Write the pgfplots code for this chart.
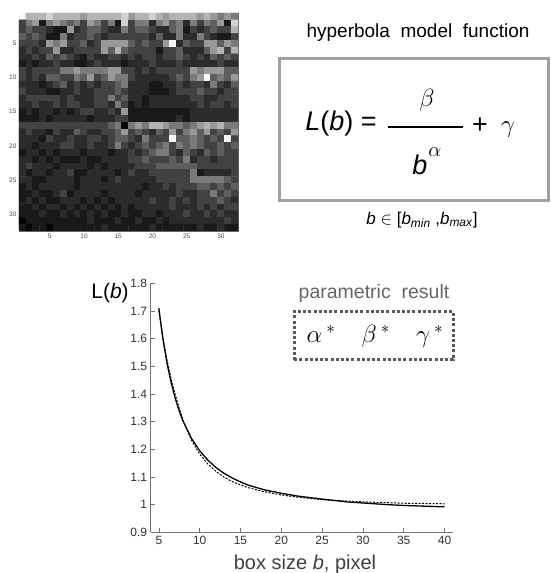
\documentclass[border=0pt]{standalone}
\usepackage{fontspec}
\setmainfont{Liberation Sans}
\usepackage{pgfplots}
\pgfplotsset{compat=1.18}
\definecolor{boxgray}{HTML}{A0A0A0}
\definecolor{dotgray}{HTML}{5A5A5A}
\begin{document}
\begin{tikzpicture}[x=1pt,y=1pt]
\useasboundingbox (0,0) rectangle (550,573);
\fill[white] (0,0) rectangle (550,573);
% matrix image
\begin{axis}[at={(19pt,342pt)}, anchor=south west, scale only axis,
  width=219pt, height=218pt,
  xmin=0.5, xmax=32.5, ymin=0.5, ymax=32.5, y dir=reverse,
  enlargelimits=false,
  xtick={5,10,15,20,25,30}, ytick={5,10,15,20,25,30},
  tick align=inside, major tick length=2pt,
  tick style={black!70, line width=0.4pt},
  axis line style={black!60, line width=0.5pt},
  ticklabel style={font=\fontsize{6.5}{6.5}\selectfont, text=black!70},
  xticklabel style={yshift=1pt}, yticklabel style={xshift=1pt},
  /pgf/number format/assume math mode=true,
  colormap={bw}{gray(0cm)=(0.02); gray(1cm)=(0.10); gray(2cm)=(0.17); gray(3cm)=(0.26);
    gray(4cm)=(0.37); gray(5cm)=(0.48); gray(6cm)=(0.60); gray(7cm)=(0.70);
    gray(8cm)=(0.82); gray(9cm)=(0.97)},
  point meta min=0, point meta max=9]
\addplot[matrix plot*, mesh/cols=32, point meta=explicit] table[meta=c, row sep=\\] {
x y c\\
1 1 9\\2 1 7\\3 1 7\\4 1 7\\5 1 8\\6 1 7\\7 1 7\\8 1 7\\9 1 7\\10 1 6\\11 1 7\\12 1 7\\13 1 7\\14 1 7\\15 1 7\\16 1 8\\17 1 6\\18 1 7\\19 1 7\\20 1 8\\21 1 7\\22 1 6\\23 1 7\\24 1 7\\25 1 7\\26 1 7\\27 1 6\\28 1 7\\29 1 6\\30 1 5\\31 1 6\\32 1 5\\
1 2 3\\2 2 5\\3 2 6\\4 2 1\\5 2 5\\6 2 6\\7 2 5\\8 2 4\\9 2 5\\10 2 3\\11 2 6\\12 2 5\\13 2 3\\14 2 5\\15 2 1\\16 2 8\\17 2 3\\18 2 5\\19 2 5\\20 2 2\\21 2 5\\22 2 6\\23 2 4\\24 2 5\\25 2 2\\26 2 5\\27 2 3\\28 2 5\\29 2 4\\30 2 6\\31 2 1\\32 2 8\\
1 3 3\\2 3 4\\3 3 3\\4 3 3\\5 3 2\\6 3 1\\7 3 1\\8 3 6\\9 3 2\\10 3 3\\11 3 4\\12 3 4\\13 3 3\\14 3 2\\15 3 2\\16 3 5\\17 3 3\\18 3 4\\19 3 4\\20 3 3\\21 3 2\\22 3 2\\23 3 4\\24 3 5\\25 3 1\\26 3 3\\27 3 2\\28 3 3\\29 3 4\\30 3 3\\31 3 3\\32 3 7\\
1 4 4\\2 4 3\\3 4 4\\4 4 3\\5 4 1\\6 4 1\\7 4 5\\8 4 2\\9 4 3\\10 4 3\\11 4 4\\12 4 3\\13 4 2\\14 4 3\\15 4 3\\16 4 3\\17 4 3\\18 4 3\\19 4 3\\20 4 2\\21 4 4\\22 4 2\\23 4 2\\24 4 5\\25 4 2\\26 4 2\\27 4 5\\28 4 3\\29 4 2\\30 4 1\\31 4 1\\32 4 3\\
1 5 3\\2 5 3\\3 5 3\\4 5 2\\5 5 6\\6 5 5\\7 5 6\\8 5 3\\9 5 3\\10 5 4\\11 5 2\\12 5 3\\13 5 6\\14 5 6\\15 5 6\\16 5 6\\17 5 4\\18 5 3\\19 5 4\\20 5 3\\21 5 3\\22 5 6\\23 5 9\\24 5 2\\25 5 4\\26 5 3\\27 5 3\\28 5 6\\29 5 6\\30 5 4\\31 5 6\\32 5 5\\
1 6 2\\2 6 3\\3 6 2\\4 6 3\\5 6 3\\6 6 6\\7 6 2\\8 6 2\\9 6 3\\10 6 3\\11 6 3\\12 6 3\\13 6 6\\14 6 4\\15 6 7\\16 6 4\\17 6 3\\18 6 3\\19 6 3\\20 6 3\\21 6 1\\22 6 3\\23 6 3\\24 6 4\\25 6 2\\26 6 2\\27 6 2\\28 6 4\\29 6 6\\30 6 7\\31 6 3\\32 6 7\\
1 7 2\\2 7 2\\3 7 3\\4 7 2\\5 7 4\\6 7 3\\7 7 4\\8 7 3\\9 7 2\\10 7 1\\11 7 3\\12 7 2\\13 7 2\\14 7 3\\15 7 3\\16 7 2\\17 7 3\\18 7 2\\19 7 3\\20 7 3\\21 7 2\\22 7 3\\23 7 3\\24 7 4\\25 7 3\\26 7 2\\27 7 3\\28 7 2\\29 7 4\\30 7 3\\31 7 4\\32 7 3\\
1 8 1\\2 8 2\\3 8 1\\4 8 2\\5 8 2\\6 8 3\\7 8 2\\8 8 2\\9 8 1\\10 8 1\\11 8 2\\12 8 3\\13 8 2\\14 8 2\\15 8 2\\16 8 1\\17 8 2\\18 8 2\\19 8 2\\20 8 3\\21 8 2\\22 8 2\\23 8 2\\24 8 3\\25 8 2\\26 8 2\\27 8 2\\28 8 2\\29 8 2\\30 8 3\\31 8 2\\32 8 2\\
1 9 3\\2 9 2\\3 9 3\\4 9 3\\5 9 3\\6 9 3\\7 9 5\\8 9 5\\9 9 6\\10 9 5\\11 9 5\\12 9 5\\13 9 5\\14 9 6\\15 9 6\\16 9 3\\17 9 3\\18 9 2\\19 9 3\\20 9 2\\21 9 3\\22 9 3\\23 9 3\\24 9 3\\25 9 3\\26 9 6\\27 9 5\\28 9 6\\29 9 6\\30 9 6\\31 9 4\\32 9 4\\
1 10 3\\2 10 2\\3 10 3\\4 10 2\\5 10 4\\6 10 4\\7 10 3\\8 10 3\\9 10 5\\10 10 4\\11 10 6\\12 10 3\\13 10 4\\14 10 6\\15 10 5\\16 10 5\\17 10 3\\18 10 2\\19 10 2\\20 10 2\\21 10 2\\22 10 2\\23 10 3\\24 10 4\\25 10 3\\26 10 5\\27 10 6\\28 10 9\\29 10 4\\30 10 5\\31 10 4\\32 10 6\\
1 11 2\\2 11 2\\3 11 2\\4 11 1\\5 11 2\\6 11 3\\7 11 4\\8 11 2\\9 11 3\\10 11 2\\11 11 3\\12 11 2\\13 11 3\\14 11 3\\15 11 4\\16 11 5\\17 11 2\\18 11 2\\19 11 2\\20 11 1\\21 11 1\\22 11 2\\23 11 2\\24 11 3\\25 11 2\\26 11 3\\27 11 3\\28 11 2\\29 11 5\\30 11 3\\31 11 2\\32 11 4\\
1 12 3\\2 12 2\\3 12 2\\4 12 2\\5 12 1\\6 12 1\\7 12 2\\8 12 2\\9 12 3\\10 12 2\\11 12 2\\12 12 3\\13 12 3\\14 12 3\\15 12 4\\16 12 3\\17 12 2\\18 12 2\\19 12 2\\20 12 1\\21 12 1\\22 12 1\\23 12 2\\24 12 3\\25 12 3\\26 12 3\\27 12 4\\28 12 3\\29 12 3\\30 12 2\\31 12 3\\32 12 3\\
1 13 2\\2 13 3\\3 13 3\\4 13 3\\5 13 3\\6 13 3\\7 13 2\\8 13 3\\9 13 2\\10 13 2\\11 13 2\\12 13 3\\13 13 3\\14 13 5\\15 13 3\\16 13 4\\17 13 2\\18 13 2\\19 13 1\\20 13 2\\21 13 2\\22 13 2\\23 13 2\\24 13 2\\25 13 2\\26 13 3\\27 13 3\\28 13 2\\29 13 2\\30 13 3\\31 13 3\\32 13 3\\
1 14 2\\2 14 2\\3 14 3\\4 14 2\\5 14 2\\6 14 3\\7 14 2\\8 14 3\\9 14 3\\10 14 2\\11 14 2\\12 14 3\\13 14 3\\14 14 2\\15 14 5\\16 14 3\\17 14 1\\18 14 2\\19 14 1\\20 14 2\\21 14 2\\22 14 2\\23 14 2\\24 14 2\\25 14 2\\26 14 2\\27 14 3\\28 14 2\\29 14 3\\30 14 3\\31 14 2\\32 14 3\\
1 15 1\\2 15 2\\3 15 1\\4 15 2\\5 15 2\\6 15 1\\7 15 2\\8 15 1\\9 15 2\\10 15 3\\11 15 3\\12 15 2\\13 15 2\\14 15 3\\15 15 2\\16 15 6\\17 15 1\\18 15 1\\19 15 1\\20 15 1\\21 15 1\\22 15 1\\23 15 1\\24 15 1\\25 15 1\\26 15 2\\27 15 2\\28 15 2\\29 15 2\\30 15 2\\31 15 2\\32 15 2\\
1 16 1\\2 16 1\\3 16 1\\4 16 2\\5 16 1\\6 16 2\\7 16 2\\8 16 2\\9 16 2\\10 16 2\\11 16 1\\12 16 2\\13 16 2\\14 16 2\\15 16 3\\16 16 3\\17 16 1\\18 16 1\\19 16 1\\20 16 1\\21 16 1\\22 16 1\\23 16 1\\24 16 2\\25 16 1\\26 16 2\\27 16 2\\28 16 2\\29 16 2\\30 16 2\\31 16 2\\32 16 2\\
1 17 3\\2 17 3\\3 17 3\\4 17 3\\5 17 3\\6 17 3\\7 17 3\\8 17 3\\9 17 3\\10 17 3\\11 17 3\\12 17 3\\13 17 3\\14 17 4\\15 17 5\\16 17 0\\17 17 5\\18 17 6\\19 17 5\\20 17 7\\21 17 7\\22 17 6\\23 17 5\\24 17 5\\25 17 4\\26 17 5\\27 17 6\\28 17 7\\29 17 6\\30 17 7\\31 17 5\\32 17 5\\
1 18 2\\2 18 3\\3 18 2\\4 18 2\\5 18 1\\6 18 3\\7 18 2\\8 18 2\\9 18 4\\10 18 3\\11 18 2\\12 18 2\\13 18 3\\14 18 3\\15 18 4\\16 18 6\\17 18 3\\18 18 4\\19 18 3\\20 18 2\\21 18 4\\22 18 3\\23 18 6\\24 18 3\\25 18 5\\26 18 6\\27 18 4\\28 18 6\\29 18 3\\30 18 4\\31 18 3\\32 18 6\\
1 19 2\\2 19 2\\3 19 2\\4 19 1\\5 19 3\\6 19 2\\7 19 2\\8 19 3\\9 19 2\\10 19 2\\11 19 3\\12 19 3\\13 19 2\\14 19 3\\15 19 4\\16 19 4\\17 19 3\\18 19 2\\19 19 5\\20 19 3\\21 19 3\\22 19 3\\23 19 9\\24 19 4\\25 19 4\\26 19 5\\27 19 4\\28 19 3\\29 19 4\\30 19 3\\31 19 9\\32 19 3\\
1 20 2\\2 20 2\\3 20 1\\4 20 2\\5 20 2\\6 20 2\\7 20 3\\8 20 3\\9 20 2\\10 20 2\\11 20 3\\12 20 2\\13 20 2\\14 20 3\\15 20 5\\16 20 3\\17 20 2\\18 20 3\\19 20 4\\20 20 3\\21 20 4\\22 20 5\\23 20 3\\24 20 5\\25 20 4\\26 20 5\\27 20 4\\28 20 3\\29 20 3\\30 20 4\\31 20 3\\32 20 4\\
1 21 1\\2 21 2\\3 21 2\\4 21 1\\5 21 2\\6 21 1\\7 21 2\\8 21 2\\9 21 2\\10 21 1\\11 21 2\\12 21 2\\13 21 2\\14 21 1\\15 21 2\\16 21 2\\17 21 3\\18 21 2\\19 21 3\\20 21 4\\21 21 5\\22 21 5\\23 21 3\\24 21 2\\25 21 4\\26 21 3\\27 21 2\\28 21 4\\29 21 3\\30 21 4\\31 21 3\\32 21 3\\
1 22 2\\2 22 2\\3 22 1\\4 22 2\\5 22 1\\6 22 2\\7 22 1\\8 22 1\\9 22 1\\10 22 2\\11 22 1\\12 22 1\\13 22 2\\14 22 2\\15 22 2\\16 22 2\\17 22 3\\18 22 3\\19 22 4\\20 22 3\\21 22 3\\22 22 3\\23 22 4\\24 22 3\\25 22 5\\26 22 2\\27 22 3\\28 22 3\\29 22 2\\30 22 3\\31 22 3\\32 22 3\\
1 23 2\\2 23 3\\3 23 2\\4 23 2\\5 23 2\\6 23 1\\7 23 2\\8 23 2\\9 23 2\\10 23 2\\11 23 1\\12 23 2\\13 23 1\\14 23 2\\15 23 2\\16 23 2\\17 23 2\\18 23 3\\19 23 3\\20 23 3\\21 23 4\\22 23 4\\23 23 4\\24 23 4\\25 23 4\\26 23 4\\27 23 3\\28 23 3\\29 23 3\\30 23 3\\31 23 3\\32 23 3\\
1 24 2\\2 24 1\\3 24 2\\4 24 2\\5 24 1\\6 24 2\\7 24 2\\8 24 3\\9 24 1\\10 24 1\\11 24 2\\12 24 2\\13 24 2\\14 24 2\\15 24 1\\16 24 2\\17 24 3\\18 24 2\\19 24 2\\20 24 3\\21 24 3\\22 24 3\\23 24 3\\24 24 3\\25 24 3\\26 24 5\\27 24 1\\28 24 2\\29 24 2\\30 24 2\\31 24 2\\32 24 3\\
1 25 2\\2 25 2\\3 25 1\\4 25 1\\5 25 2\\6 25 2\\7 25 2\\8 25 2\\9 25 1\\10 25 2\\11 25 2\\12 25 2\\13 25 1\\14 25 2\\15 25 3\\16 25 2\\17 25 2\\18 25 2\\19 25 2\\20 25 2\\21 25 3\\22 25 3\\23 25 3\\24 25 3\\25 25 3\\26 25 5\\27 25 5\\28 25 5\\29 25 5\\30 25 5\\31 25 4\\32 25 3\\
1 26 1\\2 26 2\\3 26 1\\4 26 2\\5 26 2\\6 26 2\\7 26 2\\8 26 2\\9 26 1\\10 26 2\\11 26 2\\12 26 2\\13 26 2\\14 26 2\\15 26 2\\16 26 2\\17 26 2\\18 26 2\\19 26 1\\20 26 2\\21 26 2\\22 26 3\\23 26 2\\24 26 3\\25 26 3\\26 26 3\\27 26 4\\28 26 4\\29 26 3\\30 26 4\\31 26 3\\32 26 4\\
1 27 1\\2 27 1\\3 27 2\\4 27 1\\5 27 1\\6 27 2\\7 27 3\\8 27 1\\9 27 2\\10 27 2\\11 27 2\\12 27 2\\13 27 1\\14 27 2\\15 27 2\\16 27 2\\17 27 2\\18 27 1\\19 27 2\\20 27 2\\21 27 2\\22 27 2\\23 27 2\\24 27 3\\25 27 2\\26 27 2\\27 27 3\\28 27 3\\29 27 5\\30 27 3\\31 27 4\\32 27 3\\
1 28 1\\2 28 2\\3 28 1\\4 28 2\\5 28 1\\6 28 1\\7 28 2\\8 28 2\\9 28 2\\10 28 1\\11 28 2\\12 28 1\\13 28 2\\14 28 1\\15 28 2\\16 28 2\\17 28 2\\18 28 2\\19 28 2\\20 28 3\\21 28 2\\22 28 2\\23 28 3\\24 28 2\\25 28 3\\26 28 2\\27 28 3\\28 28 3\\29 28 3\\30 28 4\\31 28 3\\32 28 2\\
1 29 1\\2 29 1\\3 29 2\\4 29 1\\5 29 2\\6 29 2\\7 29 1\\8 29 2\\9 29 1\\10 29 2\\11 29 1\\12 29 2\\13 29 1\\14 29 2\\15 29 1\\16 29 2\\17 29 1\\18 29 2\\19 29 2\\20 29 2\\21 29 2\\22 29 2\\23 29 3\\24 29 2\\25 29 2\\26 29 2\\27 29 3\\28 29 2\\29 29 3\\30 29 2\\31 29 3\\32 29 3\\
1 30 1\\2 30 1\\3 30 1\\4 30 2\\5 30 1\\6 30 1\\7 30 2\\8 30 1\\9 30 2\\10 30 1\\11 30 2\\12 30 1\\13 30 2\\14 30 1\\15 30 1\\16 30 2\\17 30 1\\18 30 1\\19 30 2\\20 30 2\\21 30 1\\22 30 2\\23 30 2\\24 30 2\\25 30 3\\26 30 2\\27 30 2\\28 30 3\\29 30 2\\30 30 3\\31 30 2\\32 30 2\\
1 31 0\\2 31 1\\3 31 1\\4 31 1\\5 31 1\\6 31 1\\7 31 1\\8 31 1\\9 31 1\\10 31 1\\11 31 2\\12 31 1\\13 31 1\\14 31 1\\15 31 2\\16 31 1\\17 31 1\\18 31 2\\19 31 1\\20 31 1\\21 31 2\\22 31 1\\23 31 2\\24 31 2\\25 31 2\\26 31 2\\27 31 2\\28 31 2\\29 31 2\\30 31 2\\31 31 3\\32 31 2\\
1 32 1\\2 32 0\\3 32 1\\4 32 1\\5 32 0\\6 32 1\\7 32 1\\8 32 1\\9 32 1\\10 32 1\\11 32 1\\12 32 1\\13 32 2\\14 32 1\\15 32 1\\16 32 1\\17 32 1\\18 32 1\\19 32 1\\20 32 2\\21 32 1\\22 32 1\\23 32 1\\24 32 1\\25 32 1\\26 32 1\\27 32 2\\28 32 1\\29 32 1\\30 32 2\\31 32 1\\32 32 1\\
};
\end{axis}
% fitted curves
\begin{axis}[at={(150.7pt,40.7pt)}, anchor=south west, scale only axis,
  width=302pt, height=249pt,
  xmin=4, xmax=41, ymin=0.9, ymax=1.8,
  axis x line=bottom, axis y line=left,
  axis line style={-, black!55, line width=0.6pt},
  tick align=inside, major tick length=4pt,
  tick style={black!55, line width=0.6pt},
  xtick={5,10,15,20,25,30,35,40},
  ytick={0.9,1,1.1,1.2,1.3,1.4,1.5,1.6,1.7,1.8},
  ticklabel style={font=\fontsize{12}{12}\selectfont, text=black!80},
  /pgf/number format/assume math mode=true]
\addplot[black, line width=1.3pt] coordinates {
  (5,1.710) (5.5,1.598) (6,1.511) (6.5,1.442) (7,1.385) (7.5,1.338) (8,1.299)
  (9,1.239) (10,1.195) (11,1.161) (12,1.134) (13,1.113) (14,1.096) (15,1.082)
  (16,1.070) (18,1.053) (20,1.041) (22,1.031) (25,1.020) (28,1.010) (30,1.006)
  (33,1.000) (35,0.997) (38,0.994) (40,0.992)};
\addplot[black, line width=1pt, dash pattern=on 2pt off 1.5pt] coordinates {
  (5,1.700) (5.5,1.602) (6,1.522) (6.5,1.455) (7,1.398) (7.5,1.348) (8,1.303)
  (9,1.233) (10,1.183) (11,1.147) (12,1.120) (13,1.099) (14,1.083) (15,1.071)
  (16,1.061) (18,1.046) (20,1.035) (22,1.027) (25,1.018) (28,1.013) (30,1.010)
  (33,1.007) (35,1.005) (38,1.004) (40,1.003)};
\end{axis}
% formula panel
\node[font=\fontsize{19}{19}\selectfont] at (418,540) {hyperbola\ \ model\ \ function};
\draw[boxgray, line width=3pt] (279,372) rectangle (548,514);
\node[font=\fontsize{27}{27}\selectfont] at (341,449) {\textit{L}(\textit{b}) =};
\draw[black, line width=1.5pt] (388,446) -- (463,446);
\node[font=\fontsize{26}{26}\selectfont] at (427,473) {$\beta$};
\node[font=\fontsize{27}{27}\selectfont] at (420,408) {\textit{b}};
\node[font=\fontsize{22}{22}\selectfont] at (435,421) {$\alpha$};
\node[font=\fontsize{27}{27}\selectfont] at (480,447) {+};
\node[font=\fontsize{26}{26}\selectfont] at (508,443) {$\gamma$};
\node[font=\fontsize{17}{17}\selectfont] at (422,353)
  {\textit{b} $\in$ [\textit{b}\textsubscript{\textit{min}} ,\textit{b}\textsubscript{\textit{max}}]};
% result panel
\node[font=\fontsize{21}{21}\selectfont] at (110,280) {L(\textit{b})};
\node[font=\fontsize{19.5}{19.5}\selectfont, text=black!60] at (374,280) {parametric\ \ result};
\draw[dotgray, line width=3pt, dash pattern=on 3pt off 2.2pt] (294,213) rectangle (453,261);
\node[font=\fontsize{26}{26}\selectfont] at (375,237) {$\alpha\,^{*}\quad\beta\,^{*}\quad\gamma\,^{*}$};
\node[font=\fontsize{20}{20}\selectfont, text=black!75] at (305,9) {box size \textit{b}, pixel};
\end{tikzpicture}
\end{document}
